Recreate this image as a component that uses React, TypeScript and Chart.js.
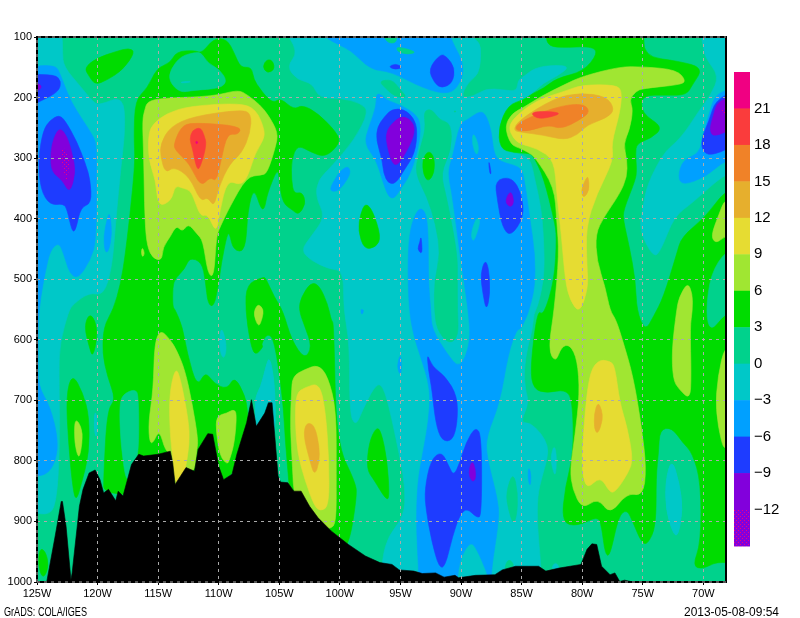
// App.tsx - GrADS style longitude / pressure section, contours
import { useEffect, useRef } from "react";
import { Chart, registerables } from "chart.js";

Chart.register(...registerables);

type Pt = number[];

const lonTicks = [125, 120, 115, 110, 105, 100, 95, 90, 85, 80, 75, 70];
const levelTicks = [100, 200, 300, 400, 500, 600, 700, 800, 900, 1000];

// lower bound of each shaded band, with its colour
const bandFloors = [21, 18, 15, 12, 9, 6, 3, 0, -3, -6, -9, -12, -15];
const bandColors = ["#F00082", "#FA3C3C", "#F08228", "#E6AF2D", "#E6DC32", "#A0E632", "#00DC00", "#00D28C", "#00C8C8", "#00A0FF", "#1E3CFF", "#8200DC", "speckle"];
const barLabels = ["21", "18", "15", "12", "9", "6", "3", "0", "−3", "−6", "−9", "−12"];

// contour outlines as [lon W, hPa]; outlines that run off the frame go a little past it
const wholePlot: Pt[] = [[125, 100], [68, 100], [68, 1000], [125, 1000]];

const tealWest: Pt[] = [[126, 108], [124.6, 90], [122.9, 90], [122.9, 126], [122.8, 149], [121.4, 182], [120.3, 209], [119.8, 212], [117.9, 197], [117.7, 248], [118.1, 320], [118.5, 403], [118.8, 480], [119.5, 527], [120.7, 522], [122, 541], [122.4, 553], [123.1, 605], [123.2, 649], [123.1, 770], [123.4, 874], [124.2, 891], [126, 880]];
const tealMiddle: Pt[] = [[104.9, 80], [88.5, 80], [88.3, 157], [89.5, 176], [90, 201], [89, 198], [87.9, 185], [86.6, 187], [85.4, 190], [85.3, 171], [84.8, 165], [83.9, 151], [82.3, 146], [81, 149], [82.1, 165], [83.2, 176], [84.1, 193], [84.8, 201], [86.1, 212], [86.8, 245], [86.8, 287], [85.7, 291], [84.3, 298], [83.9, 336], [83.4, 381], [83.2, 425], [83.1, 491], [83.6, 541], [84, 557], [84.1, 583], [84.5, 611], [84.8, 649], [84.7, 682], [84.4, 704], [85.1, 737], [84.3, 737], [83.4, 754], [82.8, 776], [82.9, 798], [83.3, 825], [83.7, 858], [83.7, 908], [83.4, 974], [83.4, 1010], [96.6, 1010], [96.5, 960], [96, 924], [94.7, 891], [94.6, 847], [95, 798], [96, 704], [96.6, 671], [97.2, 679], [98.1, 715], [98.7, 743], [99.2, 721], [99.2, 605], [99.7, 550], [99.7, 486], [100.9, 483], [102.4, 469], [103.2, 452], [102.4, 430], [101.2, 397], [102, 364], [101.8, 336], [100.7, 314], [98.8, 270], [97.6, 223], [98.3, 209], [99.9, 201], [101.7, 201], [102.3, 176], [103.5, 171], [104.4, 149], [103.4, 124]];
const tealEast: Pt[] = [[70.3, 80], [70, 118], [69.8, 135], [68.7, 165], [69.4, 196], [70.3, 220], [71.4, 254], [72.2, 273], [73.3, 292], [74.6, 342], [75, 381], [75.3, 419], [74.1, 465], [73.5, 452], [72.4, 396], [70.9, 374], [68.2, 325], [67, 325], [67, 80]];
const tealNear105: Pt[] = [[107.1, 700], [106.5, 677], [106.1, 644], [105.8, 627], [105.4, 671], [105.3, 740], [105.6, 780], [106.7, 780]];
const tealSliver120: Pt[] = [[120.2, 715], [120, 737], [120.1, 765], [120.3, 743]];
const tealIn110: Pt[] = [[109.8, 575], [109.3, 611], [109.6, 635], [110, 611]];
const tealTop113: Pt[] = [[113.1, 174], [112.3, 173], [112.4, 175], [113.1, 176]];
const tealLow73: Pt[] = [[72.6, 796], [72, 836], [71.7, 880], [72.1, 925], [72.5, 919], [73.1, 880], [73.1, 831]];
const tealSliver82: Pt[] = [[82.3, 773], [82.1, 792], [82.2, 828], [82.5, 809], [82.6, 792]];
const tealFoot82: Pt[] = [[82.2, 966], [81.8, 979], [82.6, 979]];
const tealHole89a: Pt[] = [[89, 256], [88.5, 281], [88.7, 298], [89.1, 276]];
const tealHole89b: Pt[] = [[88.7, 396], [88.4, 403], [88.7, 425], [89, 439], [89.2, 425]];

const baseTop96: Pt[] = [[96.6, 90], [96.1, 110], [95.3, 110], [95.3, 90]];
const baseTop94: Pt[] = [[95.3, 115], [93.6, 125], [94.4, 129], [95.3, 124]];
const basePatch95: Pt[] = [[96.8, 173], [95.7, 170], [95.1, 185], [94.4, 201], [95.5, 198], [96.2, 185]];
const baseBand92: Pt[] = [[93.1, 222], [92.4, 219], [91.8, 237], [90.8, 243], [90.8, 287], [91.7, 325], [91.2, 364], [90.3, 458], [90.3, 502], [90.3, 552], [90.2, 594], [91, 608], [92, 583], [92.2, 550], [92.2, 502], [91.7, 458], [92.1, 408], [92.8, 364], [93.8, 325], [93.5, 292], [92.9, 251]];
const baseDot90: Pt[] = [[90.6, 222], [90.4, 222], [90.5, 225]];
const baseBlob85: Pt[] = [[85.7, 817], [85.3, 853], [85.4, 891], [85.7, 905], [86.1, 880], [86.3, 853]];
const baseFoot86: Pt[] = [[86.1, 960], [85.5, 974], [86.5, 982]];
const baseHoleTop: Pt[] = [[113.1, 131], [111.8, 125], [111.4, 127], [110.9, 143], [109.9, 154], [109.3, 173], [109.9, 185], [112.1, 188], [113.2, 192], [114.1, 173], [114, 154]];
const baseHole117: Pt[] = [[116.9, 681], [116.6, 693], [116.6, 792], [117.1, 806], [117.6, 842], [118.1, 770], [118.2, 707], [117.9, 690]];
const baseHole69: Pt[] = [[68.1, 452], [69.4, 491], [69.8, 556], [69.4, 587], [68.3, 558], [67, 550], [67, 452]];

const blueWest: Pt[] = [[126, 149], [123.5, 146], [123.1, 160], [122.5, 193], [121.8, 220], [120.5, 259], [120.1, 276], [120.1, 320], [120.1, 436], [120.6, 469], [121.6, 499], [122.3, 491], [122.8, 458], [123.2, 439], [123.9, 452], [124.3, 486], [124.7, 530], [124.9, 568], [124.9, 632], [124.9, 677], [123.9, 710], [123.2, 770], [123.6, 809], [124.5, 826], [126, 823]];
const blueSliver119: Pt[] = [[119, 389], [118.8, 425], [119.1, 455], [119.4, 455], [119.5, 428], [119.2, 400]];
const blueTop: Pt[] = [[102.4, 80], [100.8, 107], [99.1, 121], [97.5, 154], [95.8, 157], [93.1, 185], [90.9, 196], [89.9, 171], [89.8, 143], [90.6, 113], [91.3, 80]];
const blue95: Pt[] = [[97, 193], [96.5, 196], [96.2, 204], [95, 212], [93.6, 229], [93.3, 251], [93.6, 292], [94.3, 331], [94.9, 348], [95.5, 367], [96, 364], [96.5, 336], [97, 303], [98, 276], [97.6, 248], [97, 215]];
const blue100: Pt[] = [[99.3, 313], [99.1, 325], [99.7, 345], [100.3, 356], [100.9, 353], [100.3, 331], [99.9, 320]];
const blueTiny98: Pt[] = [[98.3, 549], [98, 551], [98.2, 560]];
const blueTiny95: Pt[] = [[95, 622], [94.9, 644], [95, 660], [95.3, 644]];
const blueBig: Pt[] = [[90.1, 243], [89.5, 237], [88.5, 223], [88, 226], [87.5, 254], [87.3, 292], [86.8, 306], [85.1, 314], [84.8, 331], [84.3, 403], [83.9, 458], [83.9, 513], [84.4, 552], [84.7, 567], [85.1, 583], [85.4, 583], [86.1, 622], [86.8, 704], [87.9, 759], [87.9, 792], [86.9, 869], [86.9, 902], [87.5, 979], [87.5, 1010], [87.9, 982], [88.7, 946], [89.2, 933], [90, 957], [90.3, 990], [90.3, 1010], [93.5, 1010], [93.5, 979], [93.7, 908], [93.6, 836], [93.1, 781], [92.7, 737], [92.5, 682], [93.4, 624], [93.9, 594], [94.3, 550], [94.4, 469], [94.2, 414], [93.5, 381], [92.9, 389], [92.7, 425], [92.7, 502], [92.5, 552], [92.4, 583], [91.2, 622], [90.1, 649], [89.2, 605], [89.4, 550], [90.1, 458], [90.7, 364], [91.1, 323], [90.7, 298]];
const blueEast: Pt[] = [[67, 182], [69, 193], [69.5, 226], [70, 259], [70.3, 292], [71.7, 303], [72.1, 331], [71.7, 345], [69.8, 331], [68.2, 303], [67, 303]];
const blueSliver84: Pt[] = [[84.4, 809], [84.2, 825], [84.3, 844], [84.5, 825]];

const darkWestTop: Pt[] = [[126, 162], [123.5, 162], [123, 173], [123.2, 190], [124.5, 204], [126, 218]];
const darkWest: Pt[] = [[123.2, 229], [122.7, 237], [121.7, 273], [121, 309], [120.6, 336], [120.5, 375], [121.4, 381], [121.8, 419], [122.1, 422], [122.5, 386], [122.8, 375], [123.9, 378], [124.7, 353], [124.9, 303], [124.5, 254], [123.9, 237]];
const darkTiny95: Pt[] = [[96, 149], [95.4, 144], [94.8, 150], [95.4, 154]];
const darkTop91: Pt[] = [[92.7, 153], [91.7, 128], [91.2, 132], [90.5, 151], [90.7, 176], [91.6, 185], [92.2, 176]];
const dark95: Pt[] = [[95.7, 219], [94.7, 219], [93.9, 234], [93.6, 254], [93.8, 292], [94.7, 320], [95.4, 342], [96, 342], [96.4, 325], [96.5, 303], [97, 270], [96.9, 248], [96.3, 231]];
const dark87: Pt[] = [[87.7, 304], [87.5, 325], [87.6, 327], [87.7, 314]];
const dark93: Pt[] = [[93.3, 428], [93.2, 452], [93.3, 458], [93.6, 450], [93.4, 439]];
const dark88: Pt[] = [[88, 467], [87.7, 484], [87.6, 524], [87.9, 553], [88.2, 524], [88.4, 491]];
const dark86: Pt[] = [[87.2, 336], [85.8, 331], [85, 359], [84.8, 397], [85.9, 430], [86.6, 414], [87, 370]];
const darkMid91: Pt[] = [[92.8, 622], [92.4, 644], [91.3, 660], [90.3, 693], [90.3, 737], [90.7, 767], [91.6, 767], [92.1, 737], [92.4, 682], [92.7, 649]];
const darkLow90: Pt[] = [[91.6, 784], [91, 809], [90.6, 825], [90.1, 803], [89.6, 770], [88.8, 743], [88.3, 759], [88.3, 891], [88.7, 894], [89.5, 878], [90.1, 889], [90.7, 924], [91.3, 974], [91.8, 977], [92.4, 935], [92.9, 880], [93, 847], [92.5, 798]];
const darkEast: Pt[] = [[67, 185], [69, 204], [69.5, 237], [70.2, 270], [70, 292], [69.1, 295], [67, 275]];

const purpleWestTop: Pt[] = [[126, 171], [124.5, 179], [124.9, 190], [126, 193]];
const purpleWest: Pt[] = [[123.1, 249], [122.5, 265], [122.1, 292], [121.8, 323], [122.3, 359], [122.9, 336], [123.8, 323], [123.9, 292], [123.6, 265]];
const purple95: Pt[] = [[95, 231], [94.3, 234], [93.8, 248], [94, 270], [94.9, 303], [95.4, 313], [95.8, 303], [96.2, 270], [96.1, 254], [95.7, 243]];
const purple86: Pt[] = [[85.9, 352], [85.6, 372], [85.9, 382], [86.4, 372]];
const purple89: Pt[] = [[89.1, 798], [88.8, 814], [88.8, 831], [89.1, 835], [89.4, 820]];
const purpleEast: Pt[] = [[67, 198], [68.8, 204], [69.2, 231], [69.5, 254], [69.1, 266], [67, 245]];
const speckleWest: Pt[] = [[122.9, 278], [122.3, 300], [122.4, 325], [122.6, 340], [122.8, 320], [123.1, 295]];
const speckleEast: Pt[] = [[67, 215], [68.5, 218], [68.5, 230], [67, 235]];

const greenWest: Pt[] = [[119.5, 860], [119.5, 825], [119.2, 715], [118.5, 699], [119.2, 660], [119.6, 622], [119.5, 578], [118.7, 550], [118.1, 508], [117.7, 458], [117.2, 370], [116.9, 303], [117, 265], [116.9, 204], [115.9, 185], [115.1, 151], [114, 143], [113.5, 124], [112, 122], [111.4, 127], [110.4, 102], [109.3, 104], [108.7, 127], [108.2, 151], [107.3, 149], [107.1, 171], [106.6, 185], [106.2, 196], [105.5, 209], [104.9, 201], [103.8, 220], [103.1, 212], [101.8, 226], [100.2, 259], [100, 276], [101.2, 299], [102.4, 290], [103.5, 278], [104, 303], [104, 336], [103.8, 359], [103.1, 356], [102.8, 375], [103.4, 394], [103.9, 386], [104.7, 375], [105, 342], [105.1, 314], [106, 359], [106.2, 383], [106.5, 385], [107.1, 348], [107.6, 386], [107.8, 455], [108.8, 452], [109.1, 425], [109.3, 425], [109.8, 475], [110, 508], [110.4, 546], [110.9, 541], [111.1, 502], [111.4, 472], [112.4, 464], [112.8, 483], [113.6, 499], [113.8, 513], [113.8, 546], [113.6, 550], [113, 578], [112.6, 622], [111.8, 679], [111.1, 652], [110.4, 672], [109.3, 682], [108.7, 660], [107.8, 693], [107.6, 721], [107.4, 781], [110, 850]];
const greenBlob120: Pt[] = [[121.1, 151], [120.1, 135], [118.5, 124], [117.4, 118], [116.9, 125], [117.9, 154], [119.2, 171], [120.2, 179], [120.7, 165]];
const greenDot106: Pt[] = [[106.4, 149], [106, 136], [105.5, 140], [105.4, 154], [106, 160]];
const green122: Pt[] = [[122.1, 655], [121.2, 688], [120.7, 726], [120.7, 787], [121.3, 836], [121.8, 869], [122.1, 836], [122.4, 770], [122.6, 693]];
const green120: Pt[] = [[120.7, 557], [120.2, 567], [120, 594], [120.4, 630], [120.7, 611], [121.1, 578]];
const greenCorner: Pt[] = [[124.8, 944], [124.3, 949], [124, 974], [124.5, 996], [124.9, 974]];
const green105: Pt[] = [[107.7, 508], [106.3, 496], [106.1, 499], [105.4, 530], [104.7, 552], [104, 600], [102.9, 633], [102.3, 611], [102.9, 578], [103.4, 550], [103.2, 530], [102.4, 505], [101.7, 510], [101, 541], [100.7, 569], [100.5, 572], [100.3, 770], [98.7, 836], [98.6, 858], [99.2, 935], [99.9, 946], [104, 900], [104.2, 836], [104.5, 770], [104.7, 699], [105.4, 600], [106, 589], [106.5, 608], [106.3, 611], [107, 627], [107.4, 605], [107.8, 550]];
const green98: Pt[] = [[97.9, 374], [97.3, 386], [96.6, 430], [97, 447], [98, 451], [98.5, 419], [98.3, 392]];
const green97: Pt[] = [[97, 744], [96.6, 751], [96.1, 798], [95.9, 861], [96.2, 864], [97.2, 831], [97.8, 814], [97.6, 770]];
const green93: Pt[] = [[93.2, 303], [92.7, 287], [92.2, 298], [92.2, 325], [92.7, 339], [93.1, 328]];
const greenEast: Pt[] = [[84.8, 204], [84.1, 193], [83.2, 185], [82.1, 168], [79.9, 157], [78.7, 127], [79.2, 115], [81.8, 118], [83, 113], [82.9, 80], [74.8, 80], [75, 132], [72, 140], [70, 151], [70.9, 179], [71.4, 196], [73, 196], [75.1, 196], [75.1, 226], [73.3, 249], [74.3, 267], [75.5, 276], [75.6, 292], [75.5, 320], [75.6, 336], [76.6, 386], [76.6, 403], [76.1, 447], [75.6, 502], [75.5, 552], [74.8, 586], [74.1, 561], [73.3, 530], [72.2, 458], [71.8, 430], [69.8, 397], [68.2, 353], [67, 353], [67, 971], [68.9, 966], [70, 979], [70.9, 974], [70.2, 935], [70.2, 836], [70.9, 787], [71.7, 770], [72.6, 745], [73.6, 748], [73.7, 787], [73.9, 825], [73.9, 908], [74.6, 938], [75.1, 935], [75.8, 902], [76.3, 880], [77, 891], [77.7, 957], [78.1, 955], [78.4, 908], [78.7, 891], [80.4, 908], [81.7, 902], [81.4, 842], [80.7, 787], [80.8, 699], [81.4, 682], [82.9, 688], [84, 682], [84.3, 649], [83.7, 550], [83.2, 561], [82.3, 502], [82.1, 430], [82.3, 403], [83.2, 331], [84, 298], [84.3, 292], [85.7, 291], [86.8, 284], [86.9, 248], [86.1, 212]];

const limeBlock: Pt[] = [[116.1, 220], [115.9, 207], [114.8, 201], [110.4, 198], [108.4, 187], [107.6, 196], [106.6, 212], [105.9, 229], [105.1, 258], [105.3, 281], [106, 325], [106.5, 328], [107.7, 331], [109.1, 381], [109.9, 414], [110.2, 430], [110.4, 497], [110.9, 491], [111.3, 436], [111.8, 425], [112.5, 408], [113, 422], [113.5, 411], [114, 430], [114.6, 447], [114.7, 469], [115.4, 466], [115.9, 447], [116.1, 403], [116.2, 292], [116.3, 237]];
const limeDot116: Pt[] = [[116.3, 447], [116.1, 458], [116.3, 464], [116.4, 455]];
const limeDot106: Pt[] = [[106.7, 541], [106.3, 550], [106.4, 564], [106.7, 580], [107.1, 560], [107, 548]];
const lime121: Pt[] = [[121.9, 734], [121.6, 734], [121.2, 754], [121.4, 787], [121.6, 795], [121.9, 770]];
const lime113: Pt[] = [[114.8, 583], [114, 600], [113.5, 616], [112.8, 649], [112.2, 704], [111.7, 765], [111.8, 781], [112, 817], [112.4, 814], [112.8, 836], [113.5, 858], [113.7, 825], [113.9, 787], [114.4, 784], [114.9, 748], [115.4, 770], [115.7, 770], [115.8, 737], [115.4, 682], [115.3, 605]];
const lime109: Pt[] = [[110.2, 726], [109.3, 721], [108.8, 715], [108.5, 721], [108.7, 770], [109.1, 798], [109.3, 806], [109.9, 792], [110.2, 754]];
const lime102: Pt[] = [[102.9, 649], [101.8, 641], [101, 660], [100.3, 715], [100.3, 825], [100.3, 902], [100.8, 913], [102.4, 913], [103.8, 858], [103.9, 814], [104.1, 743], [104, 688], [103.9, 660]];
const limeEast: Pt[] = [[86.4, 248], [85.8, 226], [84.8, 216], [83.4, 198], [81.5, 179], [80, 165], [76.9, 149], [75, 149], [72.2, 154], [71.4, 173], [72, 179], [75, 185], [75.6, 190], [76.1, 204], [75.8, 220], [76.1, 254], [76.6, 276], [76.3, 303], [76.3, 331], [76.9, 359], [78.2, 397], [78.9, 425], [78.8, 469], [78.1, 513], [77.7, 552], [77.2, 567], [76.6, 605], [75.8, 660], [75.1, 743], [74.7, 814], [75, 858], [76.3, 853], [77.7, 889], [78.7, 861], [80, 880], [80.8, 847], [81, 814], [80.6, 759], [80.2, 688], [80.4, 633], [81, 608], [81.7, 611], [82.2, 638], [82.8, 616], [82.3, 550], [81.9, 458], [82.1, 403], [82.3, 348], [83.9, 298], [84.5, 290], [85.1, 284], [85.9, 278]];
const lime72: Pt[] = [[71.3, 505], [70.9, 524], [70.9, 552], [71.1, 578], [71, 660], [71.1, 699], [72, 682], [72.5, 666], [72.6, 616], [72.2, 550], [72, 530]];
const limeEdgeUpper: Pt[] = [[68.2, 367], [68.7, 392], [69.4, 430], [68.9, 441], [68.2, 428], [67, 428], [67, 367]];
const limeEdgeLower: Pt[] = [[68.2, 608], [68.8, 660], [69, 715], [68.5, 770], [68.2, 781], [67, 781], [67, 608]];

const yellowBlock: Pt[] = [[115.4, 243], [114.3, 226], [112.4, 214], [108.2, 209], [106.9, 220], [106.2, 254], [106.3, 270], [107, 292], [107.6, 331], [108.2, 345], [109.3, 336], [109.9, 386], [110.2, 425], [110.9, 392], [111.5, 397], [112.1, 364], [112.4, 353], [112.9, 350], [113.6, 345], [113.9, 370], [115, 381], [115.2, 336], [115.8, 303], [115.8, 259]];
const yellow113: Pt[] = [[113.6, 646], [113.2, 660], [112.5, 732], [112.4, 770], [112.8, 820], [113.1, 834], [113.6, 839], [113.8, 792], [114, 759], [114.1, 693]];
const yellow102: Pt[] = [[103.6, 688], [102.9, 679], [101.7, 671], [101.2, 715], [100.9, 798], [100.9, 875], [101.6, 883], [102.1, 875], [102.9, 831], [103.5, 787], [103.7, 732]];
const yellowEast: Pt[] = [[86.1, 248], [85.4, 229], [83.7, 204], [81.5, 190], [80, 179], [77.2, 179], [76.7, 190], [76.9, 226], [77.6, 276], [77.4, 303], [78.8, 359], [79.7, 414], [79.6, 480], [79.5, 513], [80.2, 557], [81, 535], [81.4, 502], [81.7, 430], [82.1, 359], [82.3, 303], [83.7, 284], [85.1, 277], [85.7, 267]];
const yellowLow78: Pt[] = [[78.7, 633], [77.7, 635], [77.3, 644], [76.9, 704], [76.3, 743], [75.8, 798], [76.2, 820], [77.2, 850], [77.7, 853], [78.5, 825], [79.6, 847], [80, 820], [80, 781], [79.5, 660]];

const amberBlock: Pt[] = [[114.8, 276], [114, 248], [112.1, 231], [108.2, 220], [107.3, 226], [107.4, 259], [108.1, 292], [109.1, 309], [110, 348], [110.4, 381], [110.9, 364], [111.5, 372], [112.4, 331], [113.7, 314], [114.4, 325], [114.8, 298]];
const amber102: Pt[] = [[102.8, 737], [102.1, 740], [101.7, 776], [101.7, 803], [102.1, 825], [102.5, 798], [103, 759]];
const amberEast: Pt[] = [[85.7, 254], [85.2, 237], [82.3, 201], [80.2, 192], [78, 198], [77.3, 220], [78, 234], [79.6, 245], [80.4, 262], [81.5, 270], [83.2, 262], [85.1, 257]];
const amberDot80: Pt[] = [[79.5, 330], [79.4, 353], [79.9, 367], [80.1, 353], [79.7, 334]];
const amberLow79: Pt[] = [[78.7, 703], [78.4, 715], [78.3, 732], [78.7, 756], [79, 748], [79, 721]];

const orangeBlock: Pt[] = [[113.7, 276], [113.1, 248], [112.2, 241], [108.1, 247], [108.4, 262], [109.3, 259], [109.8, 303], [110.2, 339], [110.7, 331], [111.5, 348], [112.4, 309], [113.6, 287]];
const orangeEast: Pt[] = [[85.6, 254], [85.2, 240], [82.3, 216], [80, 209], [79.3, 223], [80.2, 237], [81.7, 252], [82.8, 245], [84.5, 256]];
const redBlock: Pt[] = [[112.2, 254], [111.5, 249], [111.2, 262], [111, 278], [111.5, 314], [111.8, 320], [112.2, 281], [112.4, 270]];
const redEast: Pt[] = [[84.3, 226], [83.4, 222], [81.8, 225], [82.2, 230], [83.6, 236]];
const pinkDot: Pt[] = [[111.9, 272], [111.7, 273], [111.8, 277], [111.9, 275]];

// top of the black ground, west to east
const terrain: Pt[] = [[125, 1000], [124.2, 1000], [123.5, 924], [123, 867], [122.9, 867], [122.6, 908], [122.2, 996], [122.1, 985], [121.5, 875], [121.2, 847], [120.7, 820], [120.2, 815], [119.8, 831], [119.5, 853], [119.1, 847], [118.5, 866], [118.3, 850], [117.9, 858], [117.2, 806], [116.6, 789], [116.2, 792], [115, 789], [114, 784], [113.8, 803], [113.6, 839], [112.7, 811], [112, 817], [111.7, 781], [110.9, 755], [110.5, 756], [110, 809], [109.6, 831], [108.9, 822], [108.5, 789], [107.7, 737], [107.3, 699], [106.9, 743], [106.2, 721], [105.9, 704], [105.6, 704], [105.1, 825], [104.9, 835], [104.3, 836], [103.8, 850], [103.2, 850], [102.5, 875], [101.8, 894], [100.7, 916], [99.3, 938], [97.9, 957], [96.7, 968], [95.7, 971], [95.1, 980], [93.9, 982], [93.2, 986], [92.1, 985], [91.4, 992], [90.5, 989], [90.2, 993], [88.8, 989], [87.2, 988], [86.6, 980], [85.5, 974], [84.4, 974], [83.6, 974], [83, 982], [81.9, 977], [80.1, 971], [79.6, 946], [79.2, 937], [78.8, 938], [78.4, 974], [77.7, 988], [77.3, 985], [76.9, 999], [76.5, 997], [75.8, 1000], [75, 1000]];

// painted in this order, later ones over earlier ones
const contourLayers: [number, Pt[]][] = [
  [-3, tealWest], [-3, tealMiddle], [-3, tealEast], [-3, tealNear105], [-3, tealSliver120],
  [0, basePatch95], [0, baseBand92], [0, baseDot90], [0, baseBlob85], [0, baseFoot86], [3, green93], [3, green98], [3, green97],
  [-6, blueWest], [-6, blueSliver119], [-6, blueTop], [-6, blue95], [-6, blue100], [-6, blueTiny98], [-6, blueTiny95], [-6, blueBig], [-6, blueEast], [-6, blueSliver84],
  [0, baseTop96], [0, baseTop94],
  [-3, tealHole89a], [-3, tealHole89b], [-3, tealLow73], [-3, tealFoot82],
  [-9, darkWestTop], [-9, darkWest], [-9, darkTiny95], [-9, darkTop91], [-9, dark95], [-9, dark87], [-9, dark93], [-9, dark88], [-9, dark86], [-9, darkMid91], [-9, darkLow90], [-9, darkEast],
  [-12, purpleWestTop], [-12, purpleWest], [-12, purple95], [-12, purple86], [-12, purple89], [-12, purpleEast],
  [-15, speckleWest], [-15, speckleEast],
  [3, greenWest], [3, greenBlob120], [3, greenDot106], [3, green122], [3, green120], [3, greenCorner], [3, green105], [3, greenEast],
  [0, baseHoleTop], [0, baseHole117], [0, baseHole69], [-3, tealNear105], [-3, tealSliver120], [-3, tealIn110], [-3, tealTop113], [-3, tealLow73], [-3, tealSliver82],
  [6, limeBlock], [6, limeDot116], [6, limeDot106], [6, lime121], [6, lime113], [6, lime109], [6, lime102], [6, limeEast], [6, lime72], [6, limeEdgeUpper], [6, limeEdgeLower],
  [9, yellowBlock], [9, yellow113], [9, yellow102], [9, yellowEast], [9, yellowLow78],
  [12, amberBlock], [12, amber102], [12, amberEast], [12, amberDot80], [12, amberLow79],
  [15, orangeBlock], [15, orangeEast],
  [18, redBlock], [18, redEast],
  [21, pinkDot],
];

const makeSpeckle = () => {
  const tile = document.createElement("canvas");
  tile.width = 4;
  tile.height = 4;
  const c = tile.getContext("2d")!;
  c.fillStyle = "#8200DC";
  c.fillRect(0, 0, 4, 4);
  c.fillStyle = "#F00082";
  c.fillRect(0, 0, 1, 1);
  c.fillRect(2, 2, 1, 1);
  return c.createPattern(tile, "repeat")!;
};

const App = () => {
  const canvasRef = useRef<HTMLCanvasElement | null>(null);

  useEffect(() => {
    document.body.style.margin = "0";
    const ctx = canvasRef.current?.getContext("2d");
    if (!ctx) return;

    const speckle = makeSpeckle();
    const fillFor = (floor: number) => {
      const col = bandColors[bandFloors.indexOf(floor)];
      return col === "speckle" ? speckle : col;
    };

    // fills each outline as a closed shape through the points the scales placed,
    // rounding the corners the way the real contour lines look
    const contourFill = {
      id: "contourFill",
      beforeDatasetsDraw(chart: any) {
        const { ctx: c, chartArea: a } = chart;
        c.save();
        c.beginPath();
        c.rect(a.left, a.top, a.right - a.left, a.bottom - a.top);
        c.clip();
        chart.data.datasets.forEach((ds: any, i: number) => {
          const pts = chart.getDatasetMeta(i).data;
          const n = pts.length;
          c.beginPath();
          if (ds.sharp) {
            pts.forEach((p: any, j: number) => (j ? c.lineTo(p.x, p.y) : c.moveTo(p.x, p.y)));
          } else {
            c.moveTo((pts[n - 1].x + pts[0].x) / 2, (pts[n - 1].y + pts[0].y) / 2);
            pts.forEach((p: any, j: number) => {
              const q = pts[(j + 1) % n];
              c.quadraticCurveTo(p.x, p.y, (p.x + q.x) / 2, (p.y + q.y) / 2);
            });
          }
          c.closePath();
          c.fillStyle = ds.backgroundColor;
          c.fill();
          if (ds.backgroundColor !== speckle) {
            c.strokeStyle = ds.backgroundColor;
            c.lineWidth = 0.6;
            c.stroke();
          }
        });
        c.restore();
      },
    };

    const sheetExtras = {
      id: "sheetExtras",
      afterDraw(chart: any) {
        const { ctx: c, chartArea: a } = chart;
        c.save();
        c.strokeStyle = "#000";
        c.lineWidth = 2;
        c.strokeRect(a.left, a.top, a.right - a.left, a.bottom - a.top);
        c.strokeStyle = "#aaaaaa";
        c.lineWidth = 1;
        c.setLineDash([3, 4]);
        c.beginPath();
        c.moveTo(a.left, a.bottom);
        c.lineTo(a.left, a.top);
        c.lineTo(a.right, a.top);
        c.moveTo(a.left, a.bottom);
        c.lineTo(a.right, a.bottom);
        c.stroke();
        c.setLineDash([]);

        // colour bar
        const barTop = 72;
        const cell = 36.46;
        bandColors.forEach((_, i) => {
          c.fillStyle = fillFor(bandFloors[i]);
          c.fillRect(734, barTop + i * cell, 16, cell + 0.5);
        });
        c.fillStyle = "#000";
        c.textBaseline = "middle";
        c.textAlign = "left";
        c.font = "15px 'Liberation Sans'";
        barLabels.forEach((t, i) => c.fillText(t, 754, barTop + (i + 1) * cell));

        c.textBaseline = "alphabetic";
        c.font = "12px 'Liberation Sans'";
        c.fillText("GrADS: COLA/IGES", 4, 616, 83);
        c.fillText("2013-05-08-09:54", 684, 616, 95);
        c.restore();
      },
    };

    const gridColor = (edge: number[]) => (c: any) =>
      edge.includes(c.tick?.value) ? "transparent" : "#aaaaaa";

    const myChart = new Chart(ctx, {
      type: "scatter",
      data: {
        datasets: [
          { data: wholePlot.map(([x, y]) => ({ x, y })), backgroundColor: fillFor(0), sharp: true },
          ...contourLayers.map(([floor, outline]) => ({
            data: outline.map(([x, y]) => ({ x, y })),
            backgroundColor: fillFor(floor),
          })),
          { data: terrain.map(([x, y]) => ({ x, y })), backgroundColor: "#000000", sharp: true },
        ] as any,
      },
      options: {
        responsive: false,
        devicePixelRatio: 1,
        animation: false,
        layout: { padding: { top: 37, right: 74, bottom: 14, left: 0 } },
        elements: { point: { radius: 0, hoverRadius: 0 } },
        plugins: { legend: { display: false }, tooltip: { enabled: false }, title: { display: false } },
        scales: {
          x: {
            type: "linear",
            reverse: true,
            min: 68.13,
            max: 125,
            afterFit: (s: any) => { s.height = 22; },
            // the frame is stroked by sheetExtras, dash here is for the grid lines
            border: { display: false, dash: [3, 4] },
            grid: { z: 1, color: gridColor([125]), tickColor: "#000", tickLength: 3, lineWidth: 1, tickBorderDash: [] },
            afterBuildTicks: (s: any) => { s.ticks = lonTicks.map((value) => ({ value })); },
            ticks: { color: "#000", padding: 2, maxRotation: 0, autoSkip: false, font: { family: "'Liberation Sans'", size: 11 }, callback: (v: any) => `${v}W` },
          },
          y: {
            type: "linear",
            reverse: true,
            min: 100,
            max: 1000,
            afterFit: (s: any) => { s.width = 37; },
            border: { display: false, dash: [3, 4] },
            grid: { z: 1, color: gridColor([100, 1000]), tickColor: "#000", tickLength: 3, lineWidth: 1, tickBorderDash: [] },
            afterBuildTicks: (s: any) => { s.ticks = levelTicks.map((value) => ({ value })); },
            ticks: { color: "#000", padding: 2, autoSkip: false, font: { family: "'Liberation Sans'", size: 11 }, callback: (v: any) => `${v}` },
          },
        },
      } as any,
      plugins: [contourFill, sheetExtras],
    });

    return () => {
      myChart.destroy();
    };
  }, []);

  return <canvas ref={canvasRef} width={800} height={618} style={{ display: "block" }}></canvas>;
};

export default App;
